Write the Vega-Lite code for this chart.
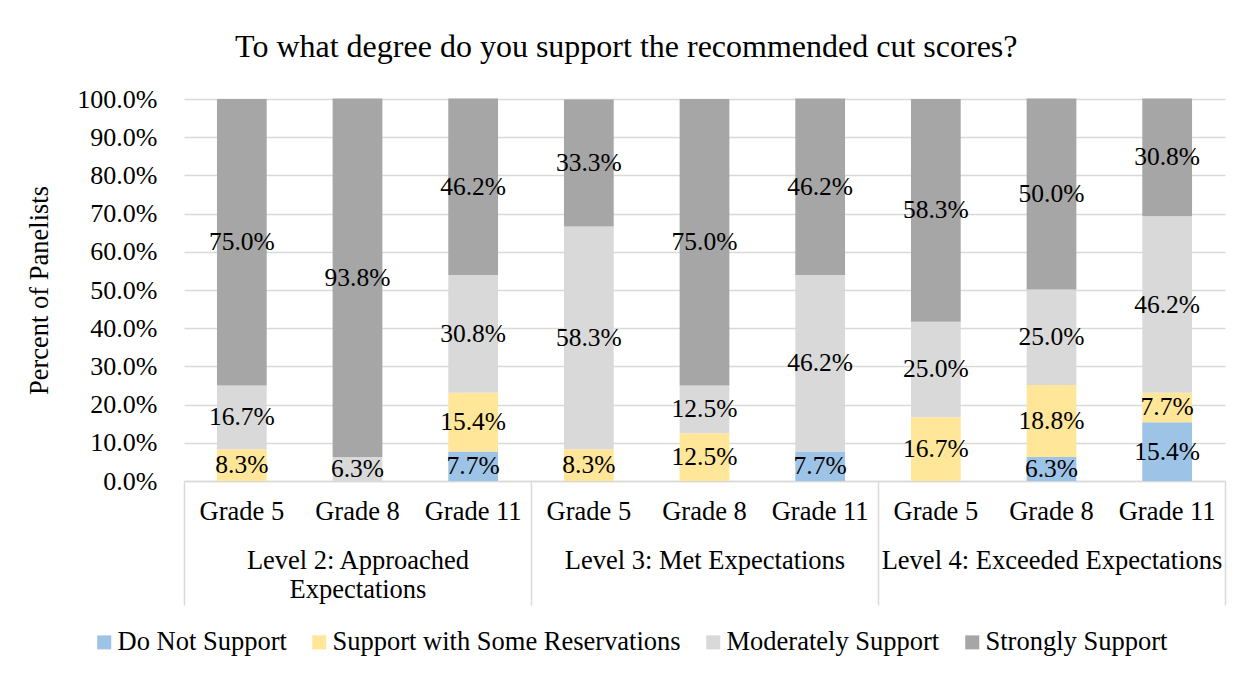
{
  "$schema": "https://vega.github.io/schema/vega-lite/v6.json",
  "width": 1041,
  "height": 382,
  "padding": {"left": 26, "top": 31, "right": 25, "bottom": 10},
  "background": "white",
  "title": {"text": "To what degree do you support the recommended cut scores?", "fontSize": 32, "fontWeight": "normal", "font": "Liberation Serif", "color": "#000000", "anchor": "middle", "frame": "bounds", "offset": 22},
  "config": {"font": "Liberation Serif", "view": {"stroke": null}},
  "data": {"values": [
    {"level": "Level 2: Approached Expectations", "key": "L2|Grade 5", "resp": "Support with Some Reservations", "rank": 2, "v": 0.083},
    {"level": "Level 2: Approached Expectations", "key": "L2|Grade 5", "resp": "Moderately Support", "rank": 3, "v": 0.167},
    {"level": "Level 2: Approached Expectations", "key": "L2|Grade 5", "resp": "Strongly Support", "rank": 4, "v": 0.75},
    {"level": "Level 2: Approached Expectations", "key": "L2|Grade 8", "resp": "Moderately Support", "rank": 3, "v": 0.063},
    {"level": "Level 2: Approached Expectations", "key": "L2|Grade 8", "resp": "Strongly Support", "rank": 4, "v": 0.938},
    {"level": "Level 2: Approached Expectations", "key": "L2|Grade 11", "resp": "Do Not Support", "rank": 1, "v": 0.077},
    {"level": "Level 2: Approached Expectations", "key": "L2|Grade 11", "resp": "Support with Some Reservations", "rank": 2, "v": 0.154},
    {"level": "Level 2: Approached Expectations", "key": "L2|Grade 11", "resp": "Moderately Support", "rank": 3, "v": 0.308},
    {"level": "Level 2: Approached Expectations", "key": "L2|Grade 11", "resp": "Strongly Support", "rank": 4, "v": 0.462},
    {"level": "Level 3: Met Expectations", "key": "L3|Grade 5", "resp": "Support with Some Reservations", "rank": 2, "v": 0.083},
    {"level": "Level 3: Met Expectations", "key": "L3|Grade 5", "resp": "Moderately Support", "rank": 3, "v": 0.583},
    {"level": "Level 3: Met Expectations", "key": "L3|Grade 5", "resp": "Strongly Support", "rank": 4, "v": 0.333},
    {"level": "Level 3: Met Expectations", "key": "L3|Grade 8", "resp": "Support with Some Reservations", "rank": 2, "v": 0.125},
    {"level": "Level 3: Met Expectations", "key": "L3|Grade 8", "resp": "Moderately Support", "rank": 3, "v": 0.125},
    {"level": "Level 3: Met Expectations", "key": "L3|Grade 8", "resp": "Strongly Support", "rank": 4, "v": 0.75},
    {"level": "Level 3: Met Expectations", "key": "L3|Grade 11", "resp": "Do Not Support", "rank": 1, "v": 0.077},
    {"level": "Level 3: Met Expectations", "key": "L3|Grade 11", "resp": "Moderately Support", "rank": 3, "v": 0.462},
    {"level": "Level 3: Met Expectations", "key": "L3|Grade 11", "resp": "Strongly Support", "rank": 4, "v": 0.462},
    {"level": "Level 4: Exceeded Expectations", "key": "L4|Grade 5", "resp": "Support with Some Reservations", "rank": 2, "v": 0.167},
    {"level": "Level 4: Exceeded Expectations", "key": "L4|Grade 5", "resp": "Moderately Support", "rank": 3, "v": 0.25},
    {"level": "Level 4: Exceeded Expectations", "key": "L4|Grade 5", "resp": "Strongly Support", "rank": 4, "v": 0.583},
    {"level": "Level 4: Exceeded Expectations", "key": "L4|Grade 8", "resp": "Do Not Support", "rank": 1, "v": 0.063},
    {"level": "Level 4: Exceeded Expectations", "key": "L4|Grade 8", "resp": "Support with Some Reservations", "rank": 2, "v": 0.188},
    {"level": "Level 4: Exceeded Expectations", "key": "L4|Grade 8", "resp": "Moderately Support", "rank": 3, "v": 0.25},
    {"level": "Level 4: Exceeded Expectations", "key": "L4|Grade 8", "resp": "Strongly Support", "rank": 4, "v": 0.5},
    {"level": "Level 4: Exceeded Expectations", "key": "L4|Grade 11", "resp": "Do Not Support", "rank": 1, "v": 0.154},
    {"level": "Level 4: Exceeded Expectations", "key": "L4|Grade 11", "resp": "Support with Some Reservations", "rank": 2, "v": 0.077},
    {"level": "Level 4: Exceeded Expectations", "key": "L4|Grade 11", "resp": "Moderately Support", "rank": 3, "v": 0.462},
    {"level": "Level 4: Exceeded Expectations", "key": "L4|Grade 11", "resp": "Strongly Support", "rank": 4, "v": 0.308}
  ]},
  "layer": [
    {
      "layer": [
        {
          "mark": {"type": "bar"},
          "encoding": {
            "x": {"field": "key", "type": "nominal", "sort": null,
              "scale": {"paddingInner": 0.57, "paddingOuter": 0.285},
              "axis": {"title": null, "labelExpr": "split(datum.value, '|')[1]", "labelAngle": 0, "ticks": false, "domainColor": "#d9d9d9", "domainWidth": 1.5, "labelFontSize": 26.5, "labelColor": "#000000", "labelPadding": 17, "labelFont": "Liberation Serif"}},
            "y": {"field": "v", "type": "quantitative", "stack": "zero",
              "scale": {"domain": [0, 1], "nice": false},
              "axis": {"title": "Percent of Panelists", "titleFontSize": 26.5, "titleFontWeight": "normal", "titleColor": "#000000", "titlePadding": 23, "format": ".1%", "values": [0, 0.1, 0.2, 0.3, 0.4, 0.5, 0.6, 0.7, 0.8, 0.9, 1.0], "labelOverlap": false, "labelFontSize": 26, "labelColor": "#000000", "labelPadding": 27, "ticks": false, "domain": false, "gridColor": "#d9d9d9", "gridWidth": 1.5}},
            "order": {"field": "rank", "type": "quantitative", "sort": "ascending"},
            "color": {"field": "resp", "type": "nominal",
              "scale": {"domain": ["Do Not Support", "Support with Some Reservations", "Moderately Support", "Strongly Support"], "range": ["#9dc3e6", "#ffe699", "#d9d9d9", "#a6a6a6"]},
              "legend": {"title": null, "orient": "none", "legendX": -93, "legendY": 530, "direction": "horizontal", "symbolType": "square", "symbolSize": 196, "symbolStrokeWidth": 0, "labelOffset": 0, "labelFontSize": 26.5, "labelColor": "#000000", "labelLimit": 0, "columnPadding": 19}}
          }
        },
        {
          "mark": {"type": "text", "fontSize": 25.5, "color": "#000000", "baseline": "middle", "align": "center"},
          "encoding": {
            "x": {"field": "key", "type": "nominal", "sort": null},
            "y": {"field": "v", "type": "quantitative", "stack": "zero", "bandPosition": 0.5,
              "axis": {"title": "Percent of Panelists", "titleFontSize": 26.5, "titleFontWeight": "normal", "titleColor": "#000000", "titlePadding": 23, "format": ".1%", "values": [0, 0.1, 0.2, 0.3, 0.4, 0.5, 0.6, 0.7, 0.8, 0.9, 1.0], "labelOverlap": false, "labelFontSize": 26, "labelColor": "#000000", "labelPadding": 27, "ticks": false, "domain": false, "gridColor": "#d9d9d9", "gridWidth": 1.5}},
            "detail": {"field": "resp", "type": "nominal"},
            "order": {"field": "rank", "type": "quantitative", "sort": "ascending"},
            "text": {"field": "v", "type": "quantitative", "format": ".1%"}
          }
        }
      ]
    },
    {
      "mark": {"type": "rule", "opacity": 0},
      "encoding": {
        "x": {"field": "level", "type": "nominal", "sort": null,
          "scale": {"paddingInner": 0, "paddingOuter": 0},
          "axis": {"title": null, "orient": "bottom", "labelAngle": 0, "domain": false, "ticks": true, "tickBand": "extent", "tickExtra": true, "tickSize": 124, "tickColor": "#d9d9d9", "tickWidth": 1.5, "labelPadding": -58, "labelFontSize": 26.5, "labelColor": "#000000", "labelLimit": 0, "labelBaseline": "top", "labelLineHeight": 29,
            "labelExpr": "datum.value == 'Level 2: Approached Expectations' ? ['Level 2: Approached', 'Expectations'] : datum.value"}}
      }
    }
  ],
  "resolve": {"scale": {"x": "independent"}, "axis": {"x": "independent"}}
}
